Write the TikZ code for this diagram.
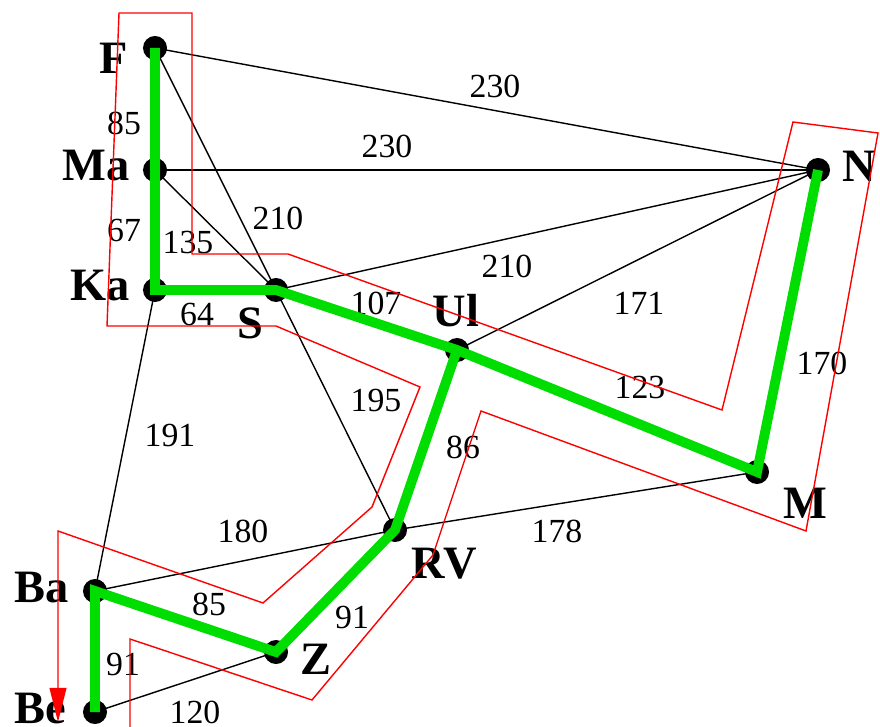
\documentclass[tikz,border=0pt]{standalone}
\usepackage{fontspec}
\setmainfont{Liberation Serif}
\usetikzlibrary{arrows.meta}
\definecolor{RouteGreen}{RGB}{0,221,0}
\definecolor{SearchRed}{RGB}{255,0,0}

\begin{document}
\begin{tikzpicture}[x=0.025cm,y=-0.025cm,>=Latex,
    city/.style={circle,fill=black,inner sep=0pt,minimum size=0.6cm},
    cityname/.style={font=\fontsize{33}{33}\selectfont\bfseries,inner sep=0pt},
    dist/.style={font=\fontsize{24}{24}\selectfont,inner sep=0pt},
    road/.style={line width=1pt,black},
    route/.style={line width=7pt,RouteGreen,line join=miter},
    search/.style={line width=1pt,SearchRed}]
      \useasboundingbox (0,0) rectangle (880,727);
      % cities
      \node[city] (F) at (155,48) {};
      \node[city] (Ma) at (155,170) {};
      \node[city] (Ka) at (155,290) {};
      \node[city] (S) at (276,290) {};
      \node[city] (Ul) at (457,350) {};
      \node[city] (N) at (818,170) {};
      \node[city] (M) at (757,472) {};
      \node[city] (RV) at (395,530) {};
      \node[city] (Ba) at (95,591) {};
      \node[city] (Z) at (276,652) {};
      \node[city] (Be) at (95,712) {};
      \node[cityname] (F-name) at (114,58) {F};
      \node[cityname] (Ma-name) at (96,166) {Ma};
      \node[cityname] (Ka-name) at (100,286) {Ka};
      \node[cityname] (S-name) at (250,323) {S};
      \node[cityname] (Ul-name) at (456,311) {Ul};
      \node[cityname] (N-name) at (859,166) {N};
      \node[cityname] (M-name) at (805,503) {M};
      \node[cityname] (RV-name) at (444,564) {RV};
      \node[cityname] (Ba-name) at (42,588) {Ba};
      \node[cityname] (Z-name) at (316,659) {Z};
      \node[cityname] (Be-name) at (40,709) {Be};
      % roads
      \draw[road] (F.center)--(N.center);
      \draw[road] (Ma.center)--(N.center);
      \draw[road] (S.center)--(N.center);
      \draw[road] (Ul.center)--(N.center);
      \draw[road] (F.center)--(Ma.center);
      \draw[road] (Ma.center)--(Ka.center);
      \draw[road] (Ma.center)--(S.center);
      \draw[road] (F.center)--(S.center);
      \draw[road] (Ka.center)--(S.center);
      \draw[road] (S.center)--(Ul.center);
      \draw[road] (S.center)--(RV.center);
      \draw[road] (Ul.center)--(M.center);
      \draw[road] (N.center)--(M.center);
      \draw[road] (Ul.center)--(RV.center);
      \draw[road] (RV.center)--(M.center);
      \draw[road] (Ka.center)--(Ba.center);
      \draw[road] (Ba.center)--(RV.center);
      \draw[road] (Ba.center)--(Z.center);
      \draw[road] (Z.center)--(RV.center);
      \draw[road] (Ba.center)--(Be.center);
      \draw[road] (Be.center)--(Z.center);
      % distances
      \node[dist] (d-F-Ma) at (124,123) {85};
      \node[dist] (d-Ma-Ka) at (124,230) {67};
      \node[dist] (d-Ma-S) at (188,242) {135};
      \node[dist] (d-F-S) at (278,218) {210};
      \node[dist] (d-Ka-S) at (197,314) {64};
      \node[dist] (d-F-N) at (495,86) {230};
      \node[dist] (d-Ma-N) at (387,146) {230};
      \node[dist] (d-S-N) at (507,266) {210};
      \node[dist] (d-Ul-N) at (639,303) {171};
      \node[dist] (d-Ul-M) at (640,387) {123};
      \node[dist] (d-N-M) at (822,363) {170};
      \node[dist] (d-S-Ul) at (376,303) {107};
      \node[dist] (d-S-RV) at (376,400) {195};
      \node[dist] (d-Ul-RV) at (463,447) {86};
      \node[dist] (d-RV-M) at (557,531) {178};
      \node[dist] (d-Ka-Ba) at (170,435) {191};
      \node[dist] (d-Ba-RV) at (243,531) {180};
      \node[dist] (d-Ba-Z) at (209,604) {85};
      \node[dist] (d-Z-RV) at (352,617) {91};
      \node[dist] (d-Ba-Be) at (123,664) {91};
      \node[dist] (d-Be-Z) at (195,712) {120};
      % found route
      \draw[route] (F.center)--(Ma.center)--(Ka.center)--(S.center)--(Ul.center)--(M.center)--(N.center);
      \draw[route] (Ul.center)--(RV.center)--(Z.center)--(Ba.center)--(Be.center);
      % search order
      \coordinate (start) at (130,727);
      \coordinate (goal) at (58,722);
      \draw[search,-{Triangle[length=0.85cm,width=0.42cm]}] (start)--(130,639)--(312,700)--(433,555)--(481,411)
        --(806,531)--(878,133)--(793,122)--(722,410)--(288,254)--(192,254)--(192,13)--(119,13)
        --(107,326)--(276,326)--(420,387)--(372,507)--(263,603)--(58,531)--(goal);
    \end{tikzpicture}
\end{document}
